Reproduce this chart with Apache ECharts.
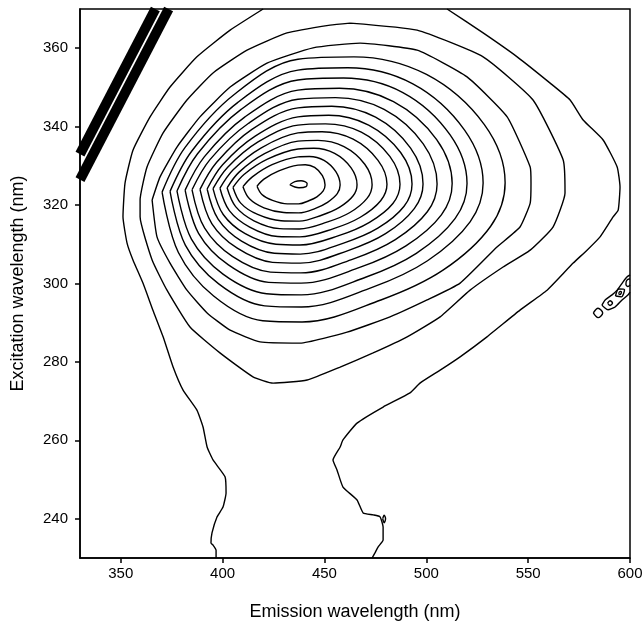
<html>
<head>
<meta charset="utf-8">
<title>EEM contour</title>
<script src="https://cdn.jsdelivr.net/npm/echarts@6/dist/echarts.min.js"></script>
<style>
  html, body { margin: 0; padding: 0; background: #fff; }
  #chart { width: 643px; height: 623px; }
</style>
</head>
<body>
<div id="chart"></div>
<script>
// tick labels
var xTicks = [350, 400, 450, 500, 550, 600];
var yTicks = [240, 260, 280, 300, 320, 340, 360];

// contour rings, [emission, excitation] (inner -> outer)
var peak = [[433.0,325.2],[435.5,326.0],[438.5,326.2],[441.5,325.5],[441.0,324.7],[437.5,324.4],[435.5,324.6],[433.0,325.2]];
var ring1 = [[416.9,324.8],[419.3,322.7],[424.5,321.2],[431.8,320.3],[437.3,320.3],[442.3,321.1],[446.3,322.1],[449.4,323.6],[450.3,325.1],[449.0,327.5],[445.2,329.6],[440.6,330.3],[437.0,330.2],[427.6,328.7],[420.3,326.6],[416.9,324.8]];
var ring2 = [[410.0,324.7],[413.2,321.6],[420.3,319.3],[430.0,318.1],[437.4,318.0],[445.3,319.1],[451.5,320.7],[456.3,322.9],[457.7,325.1],[455.6,328.5],[449.8,331.4],[442.6,332.4],[437.0,332.3],[424.3,330.3],[414.6,327.2],[410.0,324.7]];
var ring3 = [[405.1,324.5],[408.9,320.5],[417.2,317.6],[428.7,316.0],[437.6,315.9],[448.6,317.4],[457.3,319.4],[464.0,322.3],[466.0,325.2],[463.1,329.5],[455.0,333.2],[444.8,334.5],[437.0,334.3],[422.0,331.7],[410.5,327.8],[405.1,324.5]];
var ring4 = [[402.2,324.4],[406.4,319.6],[415.4,316.0],[428.0,314.0],[437.7,313.9],[451.6,315.7],[462.5,318.1],[470.9,321.7],[473.4,325.2],[469.8,330.4],[459.6,334.9],[446.8,336.5],[437.0,336.3],[420.6,333.1],[408.1,328.4],[402.2,324.4]];
var ring5 = [[398.7,324.3],[403.3,318.6],[413.3,314.4],[427.0,312.0],[437.9,311.9],[454.5,314.0],[467.6,316.9],[477.6,321.1],[480.7,325.3],[476.3,331.4],[464.1,336.8],[448.8,338.7],[437.0,338.4],[419.0,334.6],[405.2,329.0],[398.7,324.3]];
var ring6 = [[395.3,324.2],[400.3,317.6],[411.1,312.7],[426.2,310.0],[438.0,309.8],[457.0,312.2],[472.1,315.6],[483.6,320.4],[487.1,325.3],[482.1,332.4],[468.1,338.6],[450.5,340.7],[437.0,340.4],[417.4,336.1],[402.4,329.6],[395.3,324.2]];
var ring7 = [[392.4,324.1],[397.8,316.4],[409.3,310.8],[425.4,307.7],[438.1,307.5],[459.4,310.3],[476.2,314.1],[489.1,319.7],[493.0,325.4],[487.4,333.4],[471.7,340.4],[452.1,342.9],[437.0,342.5],[416.0,337.6],[400.0,330.3],[392.4,324.1]];
var ring8 = [[388.9,324.0],[394.7,315.3],[407.2,309.0],[424.5,305.4],[438.2,305.2],[461.6,308.4],[480.0,312.7],[494.1,319.1],[498.4,325.4],[492.3,334.5],[475.1,342.4],[453.6,345.2],[437.0,344.8],[414.4,339.3],[397.1,330.9],[388.9,324.0]];
var ring9 = [[385.0,323.9],[391.2,314.1],[404.8,306.9],[423.5,302.9],[438.4,302.7],[464.3,306.3],[484.8,311.2],[500.5,318.3],[505.3,325.4],[498.5,335.6],[479.3,344.4],[455.4,347.4],[437.0,347.0],[412.6,340.8],[393.8,331.6],[385.0,323.9]];
var ring10 = [[381.6,323.8],[388.2,312.8],[402.7,304.8],[422.6,300.3],[438.5,300.1],[467.3,304.1],[490.0,309.6],[507.4,317.5],[512.7,325.5],[505.1,336.7],[483.9,346.4],[457.4,349.8],[437.0,349.3],[411.0,342.5],[391.0,332.3],[381.6,323.8]];
var ring11 = [[377.6,323.6],[384.7,311.3],[400.2,302.4],[421.6,297.4],[438.7,297.1],[470.2,301.6],[495.1,307.7],[514.2,316.6],[520.0,325.5],[511.7,337.9],[488.5,348.7],[459.4,352.4],[437.0,351.9],[409.1,344.4],[387.7,333.1],[377.6,323.6]];
var ring12 = [[374.2,323.5],[381.7,309.8],[398.1,299.9],[420.7,294.3],[438.8,294.0],[473.4,299.0],[500.6,305.8],[521.5,315.7],[527.9,325.6],[518.8,339.1],[493.4,350.9],[461.5,355.0],[437.0,354.4],[407.5,346.2],[384.9,333.8],[374.2,323.5]];
var ring13 = [[370.3,323.3],[378.3,307.9],[395.6,296.8],[419.7,290.5],[439.0,290.2],[477.7,295.8],[508.2,303.4],[531.6,314.6],[538.7,325.7],[528.5,340.5],[500.1,353.3],[464.5,357.8],[437.0,357.2],[405.7,348.2],[381.6,334.7],[370.3,323.3]];
var ring14 = [[365.4,321.3],[367.8,311.9],[374.2,305.2],[382.5,298.3],[392.4,292.5],[403.7,288.1],[418.4,285.1],[438.0,284.8],[461.1,287.6],[482.2,291.5],[500.4,295.8],[516.6,300.1],[534.7,309.3],[546.0,314.4],[551.0,320.5],[551.4,325.6],[551.0,329.7],[539.7,342.5],[520.0,352.7],[495.5,359.5],[467.5,361.3],[444.4,360.1],[421.8,356.2],[403.7,350.1],[388.9,342.5],[377.6,334.8],[369.3,327.2],[365.4,321.3]];
var ring15 = [[462.6,366.4],[495.5,364.6],[527.9,357.8],[552.4,346.8],[567.2,331.5],[568.1,323.1],[562.2,314.4],[551.0,308.5],[537.7,304.2],[521.5,298.3],[506.8,291.5],[490.6,286.4],[473.9,282.3],[457.7,278.7],[441.5,275.4],[424.8,274.6],[414.9,276.2],[398.7,282.3],[384.0,288.9],[372.7,298.3],[365.4,306.0],[359.5,317.0],[359.5,321.3],[362.9,329.7],[370.8,338.4],[382.5,346.8],[395.3,353.7],[412.0,359.5],[431.6,363.9],[452.8,365.9],[462.6,366.4]];

// outermost level, open at the top and the bottom of the plot
var outerLeft = [[419.9,370],[403.7,364.6],[387.4,357.8],[374.2,350.1],[364.4,342.5],[356.0,334.0],[352.1,325.6],[351.1,317.0],[353.1,310.3],[356.0,306.0],[360.9,300.1],[365.8,293.2],[370.8,286.4],[375.7,278.7],[380.6,272.8],[387.4,267.7],[390.4,263.4],[392.4,258.3],[395.3,255.0],[401.2,250.7],[401.7,246.6],[400.2,243.0],[397.3,240.5],[394.8,236.4],[394.3,233.8],[395.3,233.3],[396.8,232.0],[396.8,230]];
var outerRight = [[510.2,370],[527.9,363.9],[544.6,357.8],[560.8,351.1],[570.6,346.8],[577.0,341.7],[586.8,336.6],[593.7,329.7],[595.1,324.6],[594.2,318.7],[591.7,317.0],[585.3,311.9],[578.9,308.5],[572.1,305.2],[565.7,301.7],[559.3,298.3],[546.0,293.2],[529.8,286.4],[516.6,281.3],[506.8,277.9],[496.9,274.6],[492.0,272.1],[478.8,268.5],[466.0,264.4],[459.1,260.1],[457.7,258.3],[454.2,255.0],[456.2,252.4],[459.1,248.1],[466.0,244.8],[469.0,241.5],[473.9,241.0],[477.3,240.5],[478.8,237.9],[478.8,234.6],[476.3,232.8],[474.8,231.3],[473.4,230]];
var islandLow = [[478.6,240.0],[479.3,240.9],[480.0,240.0],[479.3,239.0],[478.6,240.0]];

// small islands at the right edge
var islandA = [[582.0,292.5],[584.3,293.7],[586.6,292.5],[584.3,291.3],[582.0,292.5]];
var islandChain = [[600,302.2],[598.6,301.7],[596.6,300.4],[593.7,298.3],[591.2,297.1],[587.8,295.8],[586.3,294.5],[589.2,293.3],[592.7,294.0],[596.1,295.8],[599.1,297.1],[600,297.8]];
var islandB = [[589.0,295.0],[590.2,295.6],[591.4,295.0],[590.2,294.4],[589.0,295.0]];
var islandC = [[592.9,296.8],[594.5,298.6],[597.3,298.4],[595.7,296.6],[592.9,296.8]];
var islandC2 = [[594.4,297.4],[595.1,298.0],[595.8,297.8],[595.1,297.2],[594.4,297.4]];
var islandD = [[600,301.2],[598.4,300.8],[598.0,299.8],[599.0,299.2],[600,299.6]];

// Rayleigh scatter bands
var scatterBand1 = [[330,333],[367,370]];
var scatterBand2 = [[330,326.5],[373.5,370]];

var smoothRings = [peak, ring1, ring2, ring3, ring4, ring5, ring6, ring7, ring8, ring9, ring10, ring11, ring12, ring13, islandLow, islandA, islandB, islandC, islandC2, islandD];
var roughLines = [ring14, ring15, outerLeft, outerRight, islandChain];

var series = [];
smoothRings.forEach(function (d) {
  series.push({type: 'line', data: d, smooth: 0.35, showSymbol: false, clip: true,
    lineStyle: {color: '#000', width: 1.4}, silent: true});
});
roughLines.forEach(function (d) {
  series.push({type: 'line', data: d, smooth: 0.15, showSymbol: false, clip: true,
    lineStyle: {color: '#000', width: 1.4}, silent: true});
});
[scatterBand1, scatterBand2].forEach(function (d) {
  series.push({type: 'line', data: d, showSymbol: false, clip: true,
    lineStyle: {color: '#000', width: 10, cap: 'butt'}, silent: true});
});

var font = 'Liberation Sans, Arial, Helvetica, sans-serif';
var chart = echarts.init(document.getElementById('chart'));
chart.setOption({
  animation: false,
  backgroundColor: '#fff',
  grid: {left: 80, top: 9, right: 13, bottom: 65, show: true, borderColor: '#000', borderWidth: 1.5, outerBoundsMode: 'none'},
  xAxis: {
    type: 'value', min: 330, max: 600,
    name: 'Emission wavelength (nm)', nameLocation: 'middle', nameGap: 45,
    nameTextStyle: {fontFamily: font, fontSize: 18, color: '#000'},
    axisLine: {show: true, onZero: false, lineStyle: {color: '#000', width: 1.5}},
    axisTick: {show: true, customValues: xTicks, length: 5, lineStyle: {color: '#000', width: 1.5}},
    axisLabel: {customValues: xTicks, margin: 8, fontFamily: font, fontSize: 15, color: '#000'},
    splitLine: {show: false}
  },
  yAxis: {
    type: 'value', min: 230, max: 370,
    name: 'Excitation wavelength (nm)', nameLocation: 'middle', nameGap: 53, nameRotate: 90,
    nameTextStyle: {fontFamily: font, fontSize: 18, color: '#000'},
    axisLine: {show: true, onZero: false, lineStyle: {color: '#000', width: 1.5}},
    axisTick: {show: true, customValues: yTicks, length: 5, lineStyle: {color: '#000', width: 1.5}},
    axisLabel: {customValues: yTicks, margin: 12, fontFamily: font, fontSize: 15, color: '#000'},
    splitLine: {show: false}
  },
  series: series
});
</script>
</body>
</html>
